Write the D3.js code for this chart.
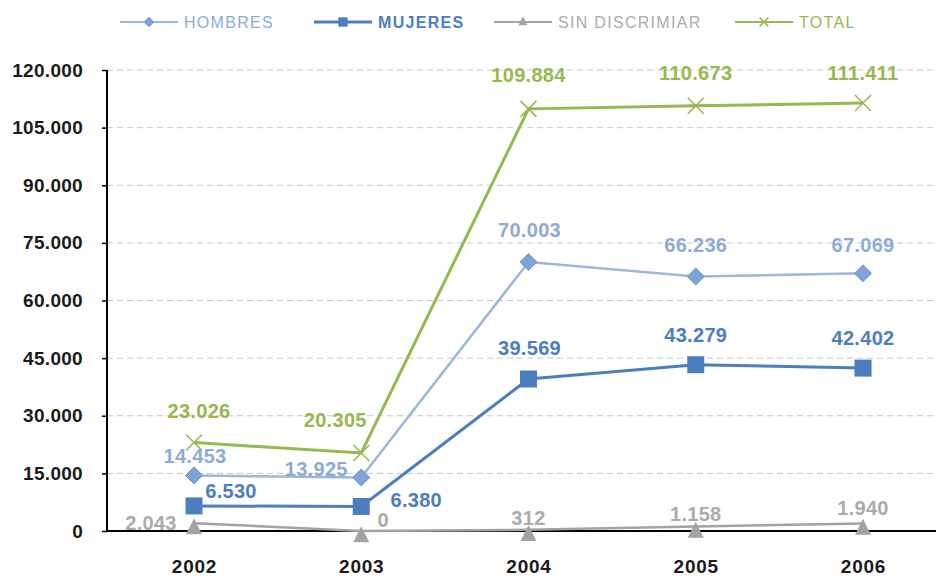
<!DOCTYPE html>
<html>
<head>
<meta charset="utf-8">
<script src="https://cdn.jsdelivr.net/npm/d3@7"></script>
<style>
  body { margin: 0; background: #fff; }
  svg { display: block; font-family: "Liberation Sans", Arial, sans-serif; }
</style>
</head>
<body>
<svg id="chart" width="939" height="576"></svg>
<script>
'use strict';

// data
var years = ['2002', '2003', '2004', '2005', '2006'];
var hombres = [14453, 13925, 70003, 66236, 67069];
var mujeres = [6530, 6380, 39569, 43279, 42402];
var sinDiscrimiar = [2043, 0, 312, 1158, 1940];
var total = [23026, 20305, 109884, 110673, 111411];
var yTicks = [0, 15000, 30000, 45000, 60000, 75000, 90000, 105000, 120000];

var series = [
	{name: 'HOMBRES', values: hombres, line: '#9cb6dc', mark: '#7ea3d6', text: '#8eabd8', symbol: 'diamond', width: 2.5},
	{name: 'MUJERES', values: mujeres, line: '#4a7ebf', mark: '#4a7ebf', text: '#4a7ebf', symbol: 'square', width: 3},
	{name: 'SIN DISCRIMIAR', values: sinDiscrimiar, line: '#a3a3a3', mark: '#a3a3a3', text: '#ababab', symbol: 'triangle', width: 2.5},
	{name: 'TOTAL', values: total, line: '#94b94e', mark: '#94b94e', text: '#94b94e', symbol: 'cross', width: 3}
];

// label offsets (baseline) in px relative to the point, hand placed like the original
var labelOffsets = {
	'HOMBRES': [[1, -12], [-45, -2], [1, -25], [0, -25], [0, -21]],
	'MUJERES': [[37, -8], [55, 1], [1, -24], [0, -23], [0, -23]],
	'SIN DISCRIMIAR': [[-43, 7], [22, -4], [0, -5], [0, -6], [0, -9]],
	'TOTAL': [[5, -25], [-26, -26], [0, -27], [0, -26], [0, -23]]
};

var svg = d3.select('#chart');
var margin = {left: 107};
var W = 939;

var x = d3.scalePoint().domain(years).range([194, 863]);
var y = d3.scaleLinear().domain([0, 120000]).range([531, 70]);

var fmt = function (v) {
	return d3.format(',')(v).replace(/,/g, '.');
};

// grid
svg.append('g')
	.selectAll('line')
	.data(yTicks.slice(1))
	.enter().append('line')
	.attr('x1', margin.left).attr('x2', W - 3)
	.attr('y1', function (d) { return y(d); })
	.attr('y2', function (d) { return y(d); })
	.attr('stroke', '#c8c8c8')
	.attr('stroke-width', 1)
	.attr('stroke-dasharray', '6,4');

// y axis
var yAxis = svg.append('g')
	.attr('transform', 'translate(' + margin.left + ',0)')
	.call(d3.axisLeft(y).tickValues(yTicks).tickSize(5).tickPadding(19).tickFormat(fmt));
yAxis.select('.domain').attr('stroke', '#000').attr('stroke-width', 2).attr('d', 'M0,' + y(120000) + 'V' + y(0));
yAxis.selectAll('.tick line').attr('stroke', '#000').attr('stroke-width', 1.5);
yAxis.selectAll('text')
	.attr('fill', '#1a1a1a')
	.style('font-size', '19px')
	.style('font-weight', 'bold')
	.style('letter-spacing', '0.3px');

// x axis
var xAxis = svg.append('g')
	.attr('transform', 'translate(0,' + y(0) + ')')
	.call(d3.axisBottom(x).tickSize(0));
xAxis.select('.domain').attr('stroke', '#000').attr('stroke-width', 2).attr('d', 'M' + margin.left + ',0H' + (W - 3));
xAxis.selectAll('text')
	.attr('y', 42)
	.attr('dy', 0)
	.attr('fill', '#1a1a1a')
	.style('font-size', '19px')
	.style('font-weight', 'bold')
	.style('letter-spacing', '0.8px');

// lines
var line = d3.line()
	.x(function (d, i) { return x(years[i]); })
	.y(function (d) { return y(d); });

function drawSymbol(g, s, cx, cy, scale) {
	scale = scale || 1;
	if (s.symbol === 'diamond') {
		var r = 8.5 * scale;
		g.append('path')
			.attr('d', 'M' + cx + ',' + (cy - r) + 'L' + (cx + r) + ',' + cy + 'L' + cx + ',' + (cy + r) + 'L' + (cx - r) + ',' + cy + 'Z')
			.attr('fill', s.mark).attr('stroke', '#6f95cc').attr('stroke-width', 1);
	} else if (s.symbol === 'square') {
		var h = 8.5 * scale;
		g.append('rect')
			.attr('x', cx - h).attr('y', cy - h).attr('width', 2 * h).attr('height', 2 * h)
			.attr('fill', s.mark);
	} else if (s.symbol === 'triangle') {
		var t = 8 * scale;
		g.append('path')
			.attr('d', 'M' + cx + ',' + (cy - t * 0.6) + 'L' + (cx + t) + ',' + (cy + t * 1.4) + 'L' + (cx - t) + ',' + (cy + t * 1.4) + 'Z')
			.attr('fill', s.mark);
	} else {
		var c = 8 * scale;
		g.append('path')
			.attr('d', 'M' + (cx - c) + ',' + (cy - c) + 'L' + (cx + c) + ',' + (cy + c) + 'M' + (cx + c) + ',' + (cy - c) + 'L' + (cx - c) + ',' + (cy + c))
			.attr('stroke', s.mark).attr('stroke-width', 1.5).attr('fill', 'none');
	}
}

// draw order: sin discrimiar, mujeres, hombres, total
[2, 1, 0, 3].forEach(function (k) {
	var s = series[k];
	var g = svg.append('g');
	g.append('path')
		.datum(s.values)
		.attr('d', line)
		.attr('fill', 'none')
		.attr('stroke', s.line)
		.attr('stroke-width', s.width);
	s.values.forEach(function (v, i) {
		drawSymbol(g, s, x(years[i]), y(v));
	});
});

// labels
series.forEach(function (s) {
	svg.append('g')
		.selectAll('text')
		.data(s.values)
		.enter().append('text')
		.attr('x', function (d, i) { return x(years[i]) + labelOffsets[s.name][i][0]; })
		.attr('y', function (d, i) { return y(d) + labelOffsets[s.name][i][1]; })
		.attr('text-anchor', 'middle')
		.attr('fill', s.text)
		.style('font-size', '20px')
		.style('font-weight', 'bold')
		.style('letter-spacing', '0.3px')
		.text(fmt);
});

// legend
var legendX = [120, 314, 494, 735];
var legend = svg.append('g').attr('transform', 'translate(0,22)');
series.forEach(function (s, i) {
	var lx = legendX[i];
	var g = legend.append('g');
	g.append('line')
		.attr('x1', lx).attr('x2', lx + 58)
		.attr('y1', 0).attr('y2', 0)
		.attr('stroke', s.line).attr('stroke-width', s.symbol === 'square' ? 3 : 2);
	drawSymbol(g, s, lx + 29, s.symbol === 'triangle' ? -3 : 0, 0.55);
	g.append('text')
		.attr('x', lx + 64)
		.attr('y', 6)
		.attr('fill', s.text)
		.style('font-size', '16px')
		.style('font-weight', s.name === 'MUJERES' ? 'bold' : 'normal')
		.style('letter-spacing', '1.3px')
		.text(s.name);
});
</script>
</body>
</html>
